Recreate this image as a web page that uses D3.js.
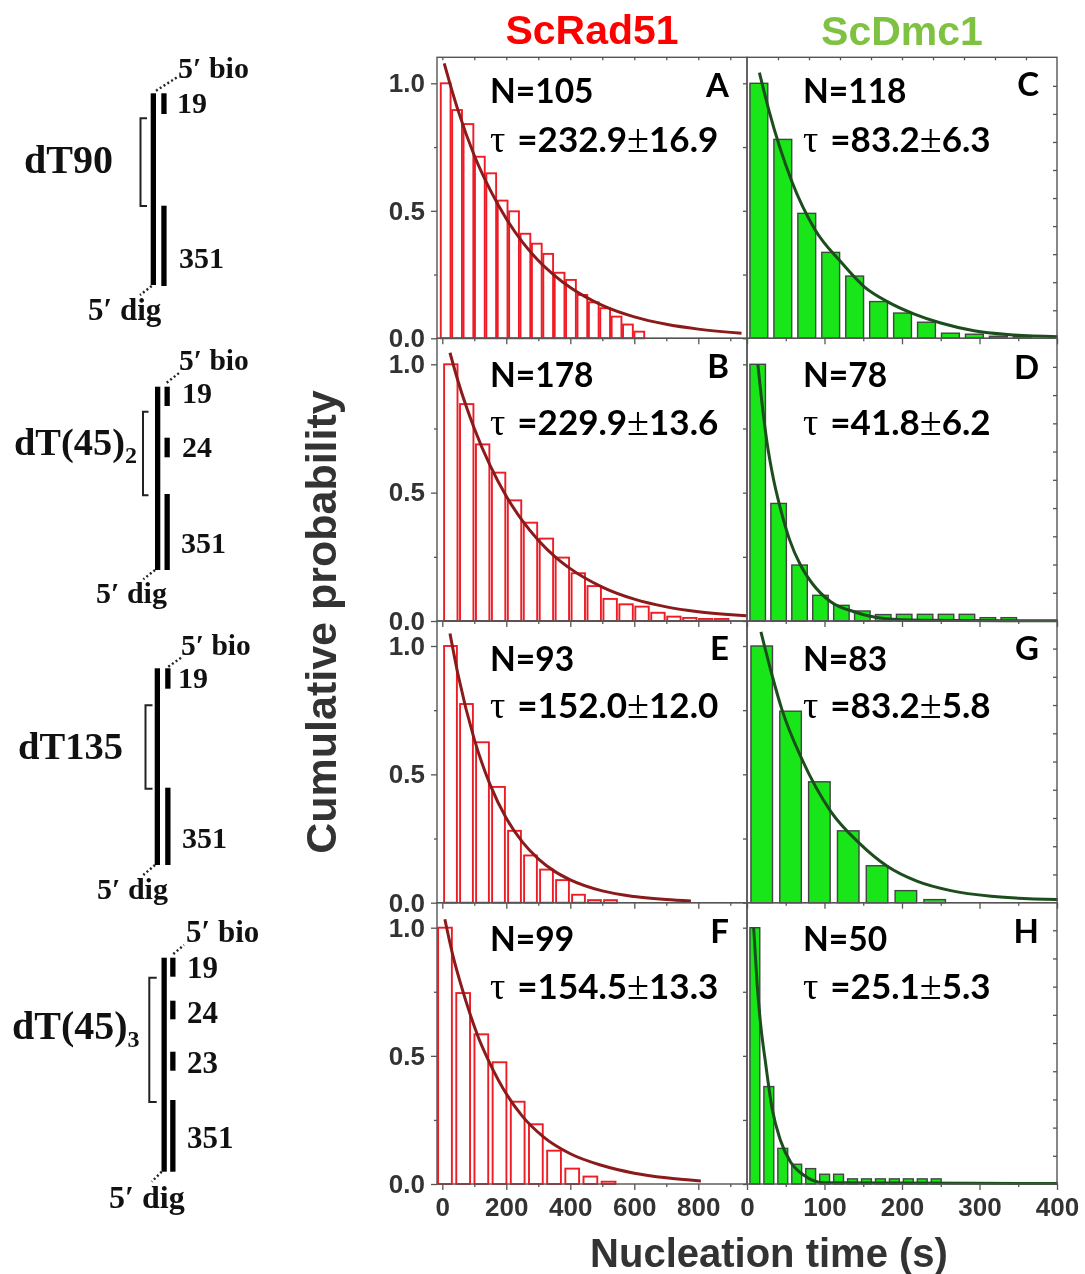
<!DOCTYPE html>
<html>
<head>
<meta charset="utf-8">
<script src="https://cdn.jsdelivr.net/npm/d3@7"></script>
<style>
  html, body { margin: 0; padding: 0; background: #fff; }
  svg { display: block; filter: blur(0.35px); }
</style>
</head>
<body>
<svg width="1085" height="1274"></svg>
<script>
// survival histograms, bar heights
const barsA = [1, .895, .84, .712, .647, .54, .498, .41, .371, .331, .257, .229, .17, .141, .118, .085, .054, .026];
const barsB = [1, .845, .688, .578, .47, .383, .321, .247, .186, .136, .086, .065, .056, .032, .017, .012, .008, .008];
const barsE = [1, .774, .625, .451, .28, .184, .129, .088, .031, .01, .01];
const barsF = [1, .745, .584, .475, .321, .233, .13, .06, .029, .009];
const barsC = [1, .78, .49, .337, .244, .144, .099, .063, .02, .016, .008, .007];
const barsD = [1, .458, .218, .1, .061, .039, .025, .026, .026, .026, .026, .013, .013];
const barsG = [1, .746, .471, .28, .144, .047, .012];
const barsH = [1, .38, .139, .077, .06, .038, .038, .02, .02, .02, .02, .02, .02, .02];

// fit curves, read as time / value pairs
const fitTimeA = [6, 25, 50, 100, 150, 200, 250, 300, 350, 400, 500, 600, 700, 800, 935];
const fitProbA = [1.078, .994, .891, .717, .581, .469, .378, .305, .247, .199, .129, .084, .055, .036, .02];
const fitTimeB = [24, 50, 100, 150, 200, 250, 300, 350, 400, 500, 600, 700, 800, 951];
const fitProbB = [1.045, .931, .75, .604, .486, .391, .315, .253, .204, .132, .085, .055, .036, .02];
const fitTimeE = [24, 50, 100, 150, 200, 250, 300, 350, 400, 500, 600, 700, 777];
const fitProbE = [1.049, .884, .636, .458, .329, .237, .171, .123, .089, .046, .024, .012, .0065];
const fitTimeF = [8, 34, 60, 86, 115, 149, 201, 250, 315, 400, 500, 600, 700, 808];
const fitProbF = [1.033, .887, .77, .666, .565, .47, .35, .265, .185, .118, .072, .042, .024, .012];
const fitTimeC = [16, 28, 58, 88, 121, 151, 181, 216, 250, 293, 336, 401];
const fitProbC = [1.042, .897, .614, .425, .3, .203, .144, .095, .06, .03, .015, .0065];
const fitTimeD = [14, 19.4, 26, 34, 43, 55, 69, 84, 108, 138, 177, 225, 401];
const fitProbD = [1, .848, .692, .555, .44, .316, .218, .147, .075, .036, .01, .003, .001];
const fitTimeG = [18, 32, 45, 71, 108, 144.5, 181, 220, 263, 315, 401];
const fitProbG = [1.055, .89, .753, .558, .356, .233, .142, .083, .047, .025, .012];
const fitTimeH = [8.6, 13, 17, 24, 32.3, 43, 56, 73, 99, 401];
const fitProbH = [1, .784, .64, .471, .296, .172, .087, .035, .005, .002];

// bin start, spacing and drawn width, in seconds
const binsRad = { A: [-4.8, 35.6, 30.6], B: [5.6, 49.8, 41.9], E: [5.6, 50, 40], F: [-13.1, 56.8, 43] };
const binsDmc = { C: [3.8, 30.9, 23], D: [3.8, 27, 20], G: [5.1, 37.2, 27.8], H: [3.8, 18, 12.7] };

const nLabels = { A: "N=105", B: "N=178", E: "N=93", F: "N=99", C: "N=118", D: "N=78", G: "N=83", H: "N=50" };
const tauLabels = {
  A: ["232.9", "16.9"], B: ["229.9", "13.6"], E: ["152.0", "12.0"], F: ["154.5", "13.3"],
  C: ["83.2", "6.3"], D: ["41.8", "6.2"], G: ["83.2", "5.8"], H: ["25.1", "5.3"]
};

const yTicks = [0, .5, 1];
const yMinorTicks = [.25, .75];
const dmcRightTicks = [.11, .22, .33, .44, .55, .66, .77, .88, .99];
const radTimeTicks = [0, 200, 400, 600, 800];
const radTimeMinor = [100, 300, 500, 700, 900];
const dmcTimeTicks = [0, 100, 200, 300, 400];
const dmcTimeMinor = [50, 150, 250, 350];
const dmcTopTicks = [40, 80, 120, 160, 200, 240, 280, 320, 360];

const grey = "#555";
const dark = "#333";
const sans = "'Liberation Sans', Arial, sans-serif";
const serif = "'Liberation Serif', 'Times New Roman', serif";
const lato = "Lato, sans-serif";

let svg = d3.select("svg");

// rows of panels: top of frame, y of 0.0, y of 1.0, baselines for the text
const rows = [
  { top: 57.3, y0: 338.3, y1: 83.3, nY: 102.7, tauY: 151.7, letterY: [96.7, 96] },
  { top: 338.3, y0: 621, y1: 364.3, nY: 386.7, tauY: 435, letterY: [378, 379] },
  { top: 621, y0: 902.7, y1: 646, nY: 670.7, tauY: 718.3, letterY: [660, 660] },
  { top: 902.7, y0: 1184, y1: 927.7, nY: 950.7, tauY: 999, letterY: [942.7, 942.7] }
];
const columns = [
  { left: 437, right: 747, zero: 442.3, perSec: 0.32, textX: 490, letterX: 729 },
  { left: 747, right: 1057, zero: 747, perSec: 0.775, textX: 803, letterX: 1039 }
];

function drawBars(g, bars, bin, scX, scY, fill, stroke, sw) {
  g.selectAll("rect")
    .data(bars)
    .enter()
    .append("rect")
    .attr("x", (d, i) => scX(bin[0] + i * bin[1]))
    .attr("y", d => scY(d))
    .attr("width", scX(bin[2]) - scX(0))
    .attr("height", d => scY(0) - scY(d))
    .style("fill", fill)
    .style("stroke", stroke)
    .style("stroke-width", sw);
}

function drawFit(g, times, probs, scX, scY, color) {
  const lineGenerator = d3.line()
    .x((d, i) => scX(times[i]))
    .y(d => scY(d))
    .curve(d3.curveMonotoneX);
  g.append("path")
    .datum(probs)
    .attr("d", lineGenerator)
    .style("fill", "none")
    .style("stroke", color)
    .style("stroke-width", 3);
}

function styleAxis(sel) {
  sel.selectAll(".domain").remove();
  sel.selectAll("line").style("stroke", grey).style("stroke-width", 1.3);
  sel.selectAll("text")
    .style("font-family", sans)
    .style("font-weight", "bold")
    .style("font-size", "26px")
    .style("fill", dark);
}

function drawPanel(id, colIdx, rowIdx, bars, bin, times, probs) {
  const col = columns[colIdx];
  const row = rows[rowIdx];
  const isRad = colIdx == 0;

  const scX = d3.scaleLinear()
    .domain([(col.left - col.zero) / col.perSec, (col.right - col.zero) / col.perSec])
    .range([col.left, col.right]);
  const scY = d3.scaleLinear().domain([0, 1]).range([row.y0, row.y1]);

  const g = svg.append("g");
  drawBars(g.append("g"), bars, bin, scX, scY,
    isRad ? "#fff" : "#18e618", isRad ? "#ee1c25" : "#444", isRad ? 1.9 : 1.4);
  drawFit(g, times, probs, scX, scY, isRad ? "#8b1a1a" : "#1c4d1c");

  g.append("rect")
    .attr("x", col.left).attr("y", row.top)
    .attr("width", col.right - col.left).attr("height", row.y0 - row.top)
    .style("fill", "none")
    .style("stroke", grey)
    .style("stroke-width", 1.4);

  // axes
  const bottomRow = rowIdx == rows.length - 1;
  const major = isRad ? radTimeTicks : dmcTimeTicks;
  const minor = isRad ? radTimeMinor : dmcTimeMinor;

  g.append("g").attr("transform", `translate(0, ${row.y0})`)
    .call(d3.axisBottom(scX).tickValues(major).tickSize(6).tickPadding(8)
      .tickFormat(d => bottomRow ? d : ""))
    .call(styleAxis);
  g.append("g").attr("transform", `translate(0, ${row.y0})`)
    .call(d3.axisBottom(scX).tickValues(minor).tickSize(3).tickFormat(""))
    .call(styleAxis);

  if (isRad) {
    g.append("g").attr("transform", `translate(${col.left}, 0)`)
      .call(d3.axisLeft(scY).tickValues(yTicks).tickSize(6).tickPadding(6).tickFormat(d3.format(".1f")))
      .call(styleAxis);
    g.append("g").attr("transform", `translate(${col.left}, 0)`)
      .call(d3.axisLeft(scY).tickValues(yMinorTicks).tickSize(3).tickFormat(""))
      .call(styleAxis);
    g.append("g").attr("transform", `translate(${col.right}, 0)`)
      .call(d3.axisLeft(scY).tickValues(yTicks.concat(yMinorTicks)).tickSize(4).tickFormat(""))
      .call(styleAxis);
  } else {
    g.append("g").attr("transform", `translate(${col.right}, 0)`)
      .call(d3.axisLeft(scY).tickValues(dmcRightTicks).tickSize(4).tickFormat(""))
      .call(styleAxis);
  }

  if (rowIdx == 0) {
    g.append("g").attr("transform", `translate(0, ${row.top})`)
      .call(d3.axisBottom(scX).tickValues(isRad ? major.concat(minor) : dmcTopTicks).tickSize(3).tickFormat(""))
      .call(styleAxis);
  }

  // annotations
  g.append("text")
    .attr("x", col.textX).attr("y", row.nY)
    .style("font-family", lato).style("font-weight", 700).style("font-size", "33.5px")
    .text(nLabels[id]);

  const tau = g.append("text")
    .attr("x", col.textX).attr("y", row.tauY)
    .style("font-family", lato).style("font-weight", 700).style("font-size", "35px");
  tau.append("tspan").style("font-family", serif).style("font-weight", "normal").style("font-size", "38px").text("\u03c4");
  tau.append("tspan").attr("dx", 12).text("=" + tauLabels[id][0]);
  tau.append("tspan").style("font-family", serif).style("font-weight", "normal").style("font-size", "40px").text("\u00b1");
  tau.append("tspan").text(tauLabels[id][1]);

  g.append("text")
    .attr("x", col.letterX).attr("y", row.letterY[colIdx])
    .attr("text-anchor", "end")
    .style("font-family", lato).style("font-weight", 700).style("font-size", "33px")
    .text(id);
}

drawPanel("A", 0, 0, barsA, binsRad.A, fitTimeA, fitProbA);
drawPanel("B", 0, 1, barsB, binsRad.B, fitTimeB, fitProbB);
drawPanel("E", 0, 2, barsE, binsRad.E, fitTimeE, fitProbE);
drawPanel("F", 0, 3, barsF, binsRad.F, fitTimeF, fitProbF);
drawPanel("C", 1, 0, barsC, binsDmc.C, fitTimeC, fitProbC);
drawPanel("D", 1, 1, barsD, binsDmc.D, fitTimeD, fitProbD);
drawPanel("G", 1, 2, barsG, binsDmc.G, fitTimeG, fitProbG);
drawPanel("H", 1, 3, barsH, binsDmc.H, fitTimeH, fitProbH);

// titles
function bigText(x, y, str, size, color, rotate) {
  let t = svg.append("text")
    .attr("x", x).attr("y", y)
    .attr("text-anchor", "middle")
    .style("font-family", sans).style("font-weight", "bold")
    .style("font-size", size + "px")
    .style("fill", color)
    .text(str);
  if (rotate) t.attr("transform", `rotate(-90, ${x}, ${y})`);
}
bigText(592, 44, "ScRad51", 41, "#ff0000");
bigText(902, 45, "ScDmc1", 41, "#7fc241");
bigText(336, 622, "Cumulative probability", 43, dark, true);
bigText(769, 1267, "Nucleation time (s)", 40, dark);

// substrate cartoons on the left
function schematicText(x, y, str, size, sub) {
  let t = svg.append("text")
    .attr("x", x).attr("y", y)
    .style("font-family", serif).style("font-weight", "bold")
    .style("font-size", size + "px")
    .style("fill", "#111")
    .text(str);
  if (sub) {
    t.append("tspan").attr("dy", 8).style("font-size", "24px").text(sub);
  }
}

function drawSchematic(s) {
  const g = svg.append("g");
  g.append("rect").attr("x", s.main[0]).attr("y", s.main[1]).attr("width", 5.3).attr("height", s.main[2] - s.main[1]);
  g.selectAll(".seg")
    .data(s.pieces)
    .enter()
    .append("rect")
    .attr("x", s.secondX)
    .attr("y", d => d[0])
    .attr("width", 5.3)
    .attr("height", d => d[1] - d[0]);
  const [bx, bw, by0, by1] = s.bracket;
  g.append("path")
    .attr("d", `M${bx + bw},${by0}H${bx}V${by1}H${bx + bw}`)
    .style("fill", "none").style("stroke", "#222").style("stroke-width", 2);
  s.dots.forEach(d => {
    g.append("line")
      .attr("x1", d[0]).attr("y1", d[1]).attr("x2", d[2]).attr("y2", d[3])
      .style("stroke", "#222").style("stroke-width", 2.4).style("stroke-dasharray", "2 2.5");
  });
  s.labels.forEach(d => schematicText(d[0], d[1], d[2], d[3] || 30));
  schematicText(s.name[0], s.name[1], s.name[2], s.name[3], s.name[4]);
}

drawSchematic({
  main: [150.7, 93.3, 285], secondX: 161.3,
  pieces: [[93.3, 114], [205.7, 286]],
  bracket: [140.5, 6.5, 118.3, 206],
  dots: [[156, 90.7, 178, 76.7], [151.7, 286, 140, 295]],
  labels: [[178, 78, "5\u2032 bio"], [177, 113, "19"], [179, 268, "351"], [88, 320, "5\u2032 dig", 31]],
  name: [24, 173, "dT90", 40]
});
drawSchematic({
  main: [155, 386.7, 570], secondX: 164.5,
  pieces: [[386.7, 406], [437.7, 457.3], [494, 570]],
  bracket: [143, 5.5, 411.7, 495.3],
  dots: [[166.7, 382.7, 180, 372.3], [155, 570, 143.3, 579.3]],
  labels: [[179, 370, "5\u2032 bio", 29.5], [182, 403, "19"], [182, 456.7, "24"], [181, 553, "351"], [96, 602.7, "5\u2032 dig", 30]],
  name: [14, 455, "dT(45)", 38.4, "2"]
});
drawSchematic({
  main: [154.7, 668.3, 865], secondX: 165.2,
  pieces: [[668.3, 688.7], [787.7, 865]],
  bracket: [145.5, 7, 705.3, 788.7],
  dots: [[168.3, 666.7, 181.7, 657.3], [155, 865, 143.3, 875]],
  labels: [[181, 655, "5\u2032 bio", 29.5], [178, 688.3, "19"], [182, 848, "351"], [97, 899, "5\u2032 dig", 30]],
  name: [18, 759.3, "dT135", 38.6]
});
drawSchematic({
  main: [161.5, 957.7, 1171.7], secondX: 170.2,
  pieces: [[957.7, 976.7], [1000.7, 1019.3], [1051.7, 1070.7], [1100, 1171.7]],
  bracket: [149.3, 7.4, 977.7, 1102],
  dots: [[173.3, 954, 184, 945], [161.7, 1171.7, 151.7, 1181.7]],
  labels: [[186, 941.7, "5\u2032 bio", 31], [187, 978.3, "19", 31], [187, 1023.3, "24", 31], [187, 1073.3, "23", 31], [187, 1148.3, "351", 31], [109, 1208.3, "5\u2032 dig", 32]],
  name: [12, 1039.3, "dT(45)", 40, "3"]
});
</script>
</body>
</html>
